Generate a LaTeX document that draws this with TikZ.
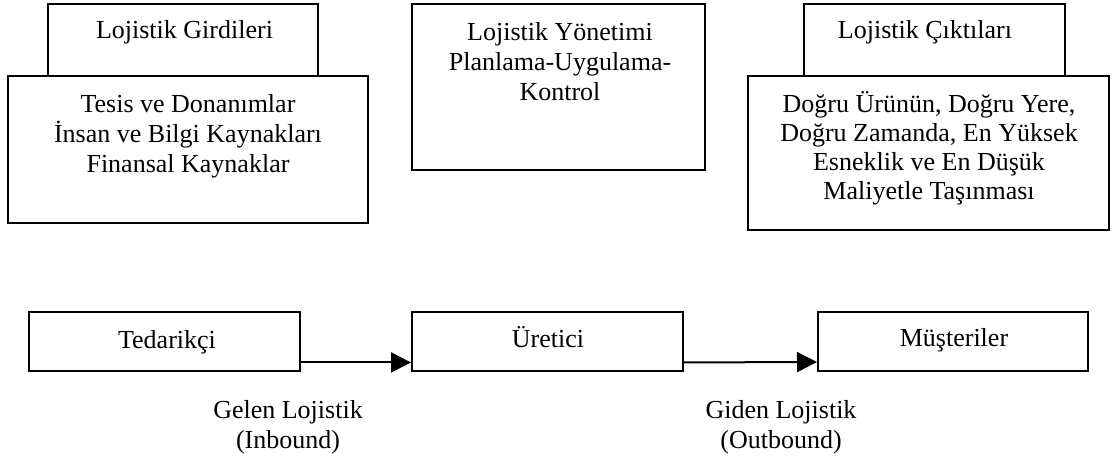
\documentclass[tikz,border=0pt]{standalone}
\usepackage{fontspec}
\setmainfont{Liberation Serif}
\usetikzlibrary{arrows.meta}
\begin{document}
\begin{tikzpicture}[x=1pt,y=-1pt,
  box/.style={draw, line width=2pt, fill=white, inner sep=0pt},
  txt/.style={font=\fontsize{26}{30}\selectfont, align=center, inner sep=0pt, anchor=base},
  flow/.style={line width=2pt, -{Triangle[length=20pt,width=20pt]}}]
\useasboundingbox (0,0) rectangle (1117,461);

% upper blocks: header tabs drawn first, content boxes over them
\node[box, minimum width=270pt, minimum height=72pt] (inhead) at (183,40) {};
\node[box, minimum width=360pt, minimum height=147pt] (inbody) at (188,149.5) {};
\node[box, minimum width=293pt, minimum height=166pt] (mgmt) at (558.5,87) {};
\node[box, minimum width=261pt, minimum height=72pt] (outhead) at (934.5,40) {};
\node[box, minimum width=361pt, minimum height=154pt] (outbody) at (928.5,153) {};

% multi-line texts are placed by the baseline of their last line
\node[txt] (inheadtxt) at (184.5,38) {Lojistik Girdileri};
\node[txt] (inbodytxt) at (188,172) {Tesis ve Donanımlar\\İnsan ve Bilgi Kaynakları\\Finansal Kaynaklar};
\node[txt] (mgmttxt) at (560,100) {Lojistik Yönetimi\\Planlama-Uygulama-\\Kontrol};
\node[txt] (outheadtxt) at (925,38) {Lojistik Çıktıları};
\node[txt, font=\fontsize{26}{29}\selectfont] (outbodytxt) at (929,199) {Doğru Ürünün, Doğru Yere,\\Doğru Zamanda, En Yüksek\\Esneklik ve En Düşük\\Maliyetle Taşınması};

% supply chain
\node[box, minimum width=271.4pt, minimum height=59.5pt] (ted) at (164.3,341.7) {};
\node[box, minimum width=271pt, minimum height=59.5pt] (ure) at (547.5,341.7) {};
\node[box, minimum width=270pt, minimum height=59pt] (mus) at (953,341.5) {};

\node[txt] (tedtxt) at (167,348) {Tedarikçi};
\node[txt] (uretxt) at (548,347) {Üretici};
\node[txt] (mustxt) at (954,346) {Müşteriler};

\draw[flow] ([yshift=10pt]ted.south east) -- ([yshift=10pt]ure.south west);
\draw[flow] ([yshift=10pt]ure.south east) -- ([yshift=10pt]mus.south west);

\node[txt] (inbound) at (288,448) {Gelen Lojistik\\(Inbound)};
\node[txt] (outbound) at (781,448) {Giden Lojistik\\(Outbound)};
\end{tikzpicture}
\end{document}
